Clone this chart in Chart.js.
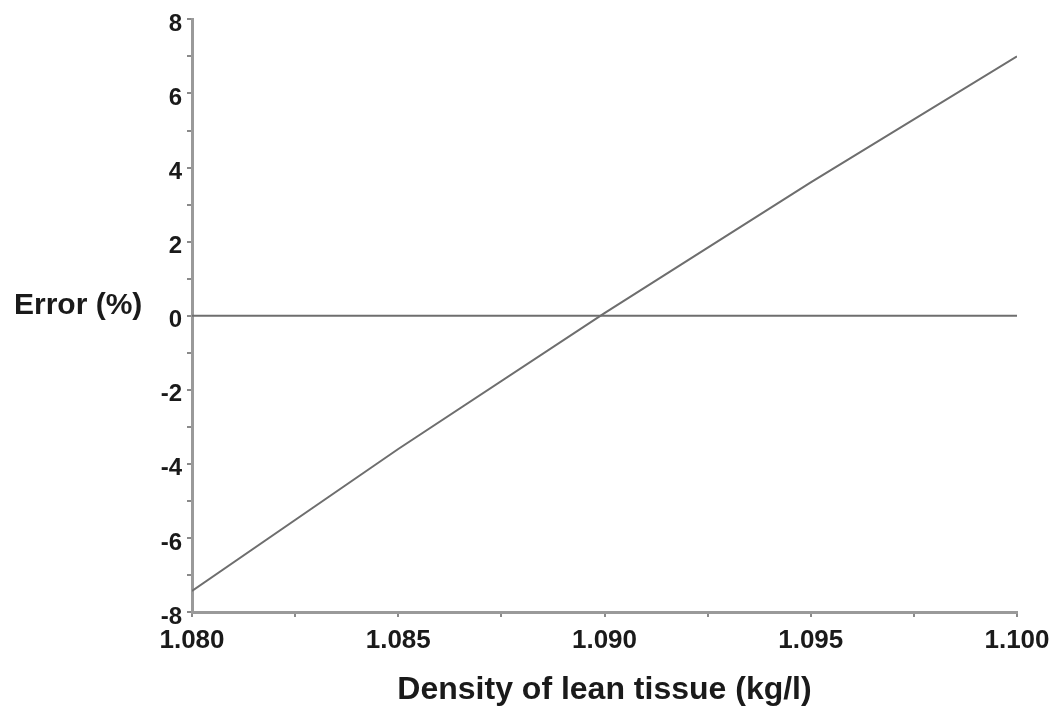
<!DOCTYPE html>
<html>
<head>
<meta charset="utf-8">
<script src="https://cdn.jsdelivr.net/npm/chart.js@4/dist/chart.umd.min.js"></script>
<style>
  html, body { margin: 0; padding: 0; background: #ffffff; }
  #wrap { width: 1058px; height: 711px; position: relative; }
</style>
</head>
<body>
<div id="wrap"><canvas id="c"></canvas></div>
<script>
// ---- Data ----
const densityValues = [1.080, 1.085, 1.090, 1.095, 1.100];   // kg/l
const errorValues = [-7.43, -3.6, 0.07, 3.6, 7.0];           // %
const zeroDensity = [1.080, 1.100];
const zeroLineValues = [0, 0];                               // reference line at 0 %
const xLabel = 'Density of lean tissue (kg/l)';
const yLabel = 'Error (%)';
const xRange = [1.080, 1.100];
const yRange = [-8, 8];

const FONT = "'Liberation Sans', Arial, Helvetica, sans-serif";

const errorPoints = densityValues.map((d, i) => ({ x: d, y: errorValues[i] }));
const zeroPoints = zeroDensity.map((d, i) => ({ x: d, y: zeroLineValues[i] }));

const yTitlePlugin = {
  id: 'yTitle',
  afterDraw(chart) {
    const ctx = chart.ctx;
    const y = chart.scales.y.getPixelForValue(0) - 10;
    ctx.save();
    ctx.fillStyle = '#1a1a1a';
    ctx.font = 'bold 30px ' + FONT;
    ctx.textAlign = 'left';
    ctx.textBaseline = 'middle';
    ctx.fillText(yLabel, 14, y);
    ctx.restore();
  }
};

new Chart(document.getElementById('c'), {
  type: 'scatter',
  data: {
    datasets: [
      {
        data: errorPoints,
        showLine: true,
        borderColor: '#6e6e6e',
        borderWidth: 2,
        pointRadius: 0,
        pointHoverRadius: 0,
        tension: 0,
        fill: false
      },
      {
        data: zeroPoints,
        showLine: true,
        borderColor: '#6e6e6e',
        borderWidth: 2,
        pointRadius: 0,
        pointHoverRadius: 0,
        fill: false
      }
    ]
  },
  options: {
    responsive: true,
    maintainAspectRatio: false,
    animation: false,
    layout: { padding: { top: 18, right: 41, left: 0, bottom: 0 } },
    plugins: {
      legend: { display: false },
      tooltip: { enabled: false }
    },
    scales: {
      x: {
        type: 'linear',
        min: xRange[0],
        max: xRange[1],
        afterBuildTicks(scale) {
          const t = [];
          for (let k = 0; k <= 8; k++) t.push({ value: xRange[0] + k * 0.0025 });
          scale.ticks = t;
        },
        afterFit(scale) { scale.height = 99; },
        border: { display: true, color: '#9a9a9a', width: 3 },
        grid: { display: true, drawOnChartArea: false, drawTicks: true, tickLength: 5, color: '#8a8a8a', lineWidth: 2 },
        ticks: {
          autoSkip: false,
          maxRotation: 0,
          padding: 8,
          color: '#1a1a1a',
          font: { family: FONT, size: 26, weight: 'bold' },
          callback(value) {
            const k = Math.round((value - xRange[0]) / 0.0025);
            return k % 2 === 0 ? value.toFixed(3) : '';
          }
        },
        title: {
          display: true,
          text: xLabel,
          color: '#1a1a1a',
          font: { family: FONT, size: 32, weight: 'bold' },
          padding: { top: 2, bottom: 2 }
        }
      },
      y: {
        type: 'linear',
        min: yRange[0],
        max: yRange[1],
        afterBuildTicks(scale) {
          const t = [];
          for (let v = yRange[0]; v <= yRange[1]; v++) t.push({ value: v });
          scale.ticks = t;
        },
        afterFit(scale) { scale.width = 192; },
        border: { display: true, color: '#9a9a9a', width: 3 },
        grid: { display: true, drawOnChartArea: false, drawTicks: true, tickLength: 5, color: '#8a8a8a', lineWidth: 2 },
        ticks: {
          autoSkip: false,
          padding: 5,
          labelOffset: 5,
          color: '#1a1a1a',
          font: { family: FONT, size: 24, weight: 'bold' },
          callback(value) {
            return Math.round(value) % 2 === 0 ? String(Math.round(value)) : '';
          }
        }
      }
    }
  },
  plugins: [yTitlePlugin]
});
</script>
</body>
</html>
